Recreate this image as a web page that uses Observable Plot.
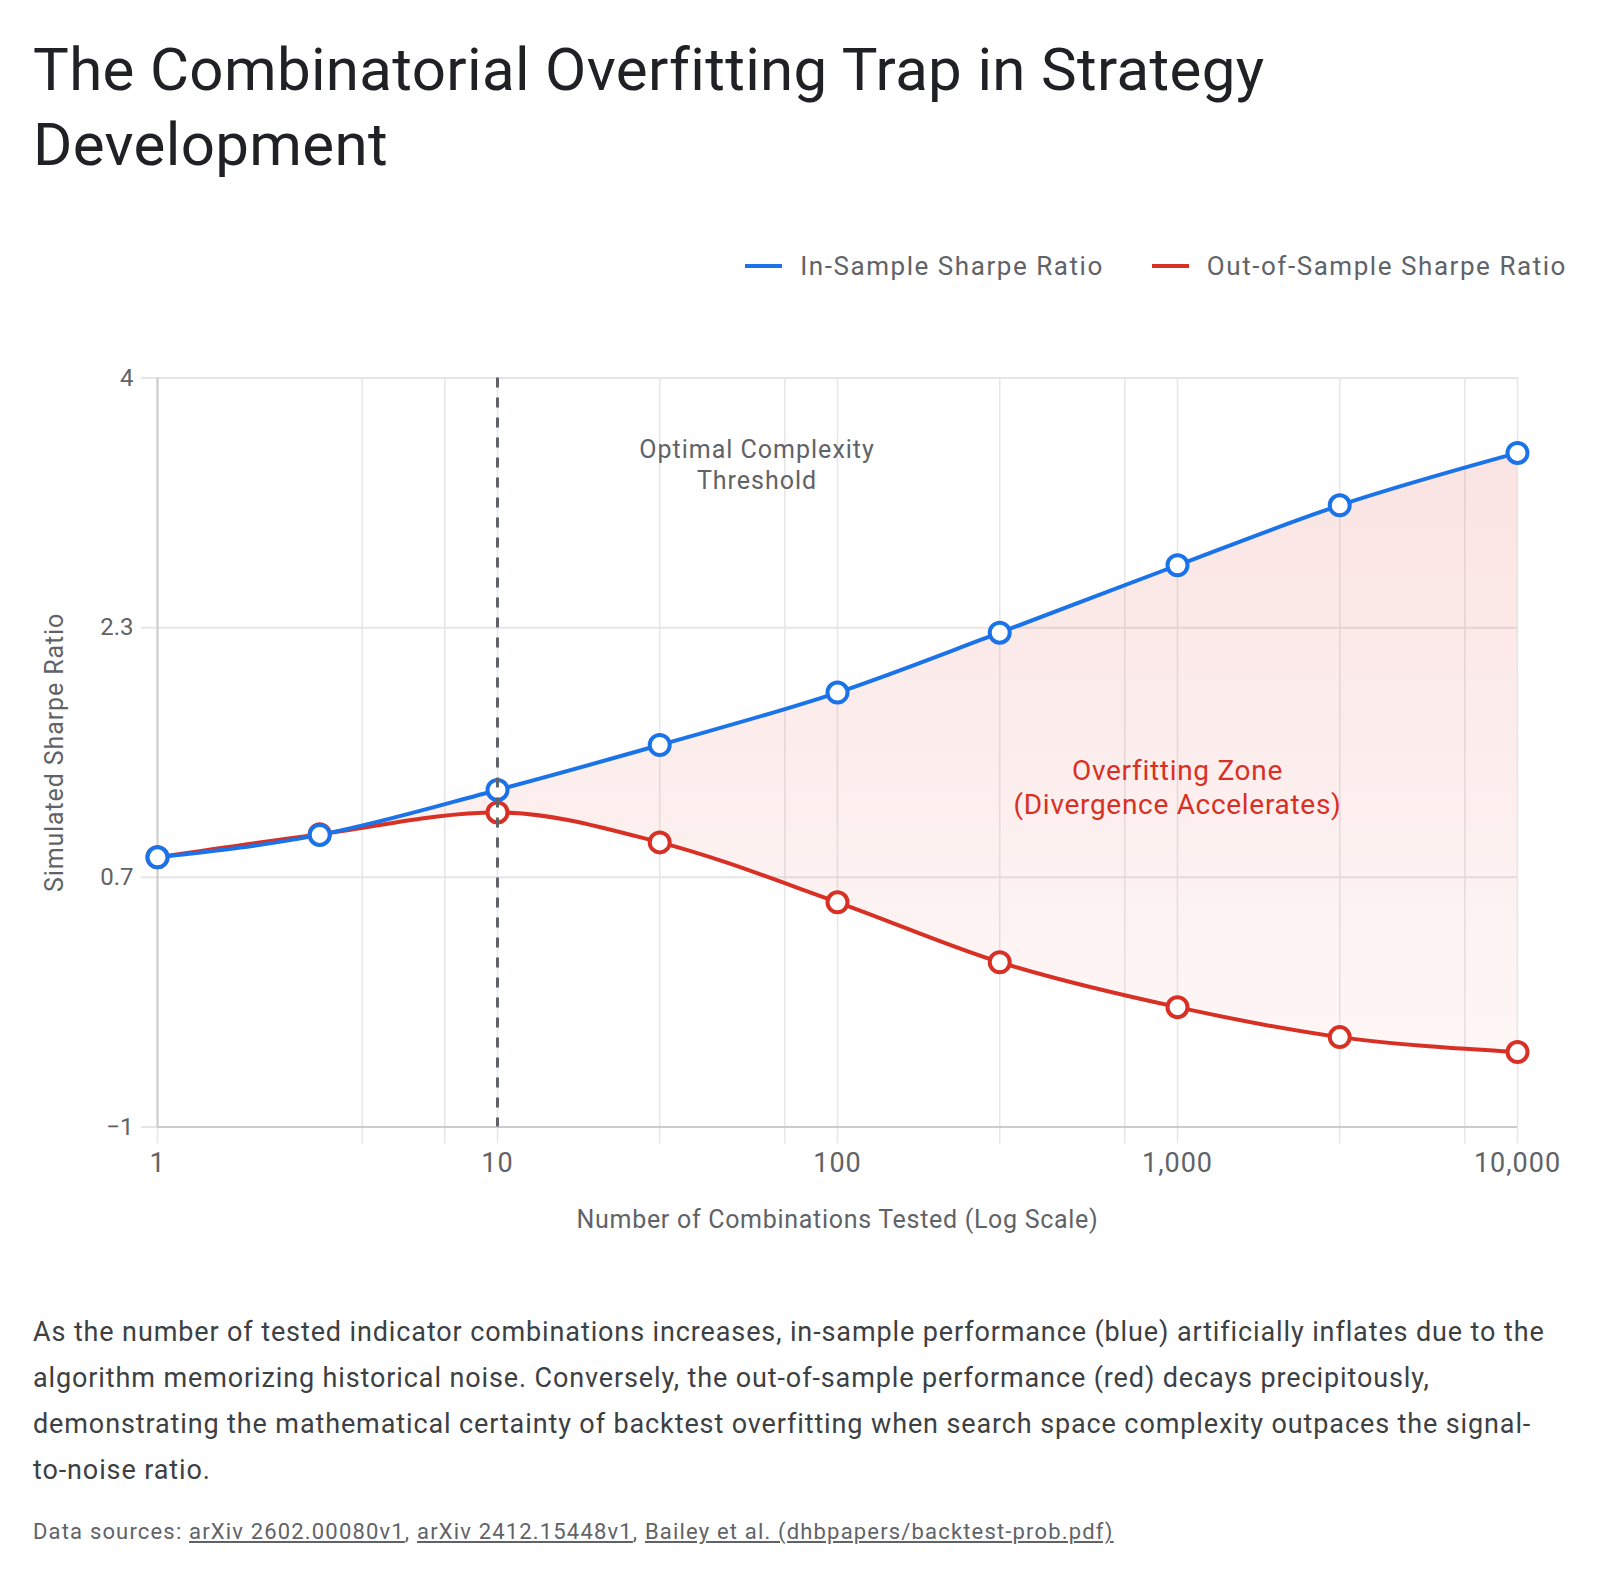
<!DOCTYPE html>
<html>
<head>
<meta charset="utf-8">
<script src="https://cdn.jsdelivr.net/npm/d3@7"></script>
<script src="https://cdn.jsdelivr.net/npm/@observablehq/plot@0.6"></script>
<style>
  html, body { margin: 0; padding: 0; background: #fff; }
  body { width: 1600px; height: 1580px; position: relative; font-family: Roboto, "Noto Sans", sans-serif; overflow: hidden; }
  #title { position: absolute; left: 33px; top: 32px; font-size: 60px; letter-spacing: 0.35px; line-height: 75px; color: #202124; font-weight: 400; margin: 0; }
  #legend { position: absolute; right: 33px; top: 251px; display: flex; align-items: center; font-size: 26px; letter-spacing: 1.55px; line-height: 30px; color: #5f6368; }
  #legend .item { display: flex; align-items: center; margin-left: 48px; }
  #legend .sw { width: 37px; height: 4px; margin-right: 18px; }
  #chart { position: absolute; left: 0; top: 300px; }
  #caption { position: absolute; left: 33px; top: 1309px; width: 1522px; font-size: 27px; letter-spacing: 0.88px; line-height: 46px; color: #3c4043; margin: 0; }
  #sources { position: absolute; left: 33px; top: 1517px; font-size: 22px; letter-spacing: 1.17px; line-height: 30px; color: #5f6368; }
  #sources a { color: #5f6368; text-decoration: underline; }
</style>
</head>
<body>
<h1 id="title">The Combinatorial Overfitting Trap in Strategy<br>Development</h1>
<div id="legend"></div>
<div id="chart"></div>
<p id="caption">As the number of tested indicator combinations increases, in-sample performance (blue) artificially inflates due to the algorithm memorizing historical noise. Conversely, the out-of-sample performance (red) decays precipitously, demonstrating the mathematical certainty of backtest overfitting when search space complexity outpaces the signal-to-noise ratio.</p>
<div id="sources">Data sources: <a href="#">arXiv 2602.00080v1</a>, <a href="#">arXiv 2412.15448v1</a>, <a href="#">Bailey et al. (dhbpapers/backtest-prob.pdf)</a></div>
<script>
// ---- data ----
const combinations = [1, 3, 10, 30, 100, 300, 1000, 3000, 10000];
const inSampleSharpe = [0.8, 0.95, 1.25, 1.55, 1.9, 2.3, 2.75, 3.15, 3.5];
const outOfSampleSharpe = [0.8, 0.955, 1.1, 0.9, 0.5, 0.1, -0.2, -0.4, -0.5];
const seriesNames = ["In-Sample Sharpe Ratio", "Out-of-Sample Sharpe Ratio"];
const seriesColors = ["#1a73e8", "#d93025"];
const xTickValues = [1, 10, 100, 1000, 10000];
const xGridValues = [1, 4, 7, 10, 30, 70, 100, 300, 700, 1000, 3000, 7000, 10000];
const yTickValues = [-1, 2 / 3, 7 / 3, 4];
const thresholdValue = [10];
const thresholdLabel = ["Optimal Complexity\nThreshold"];
const zoneLabel = ["Overfitting Zone\n(Divergence Accelerates)"];
const xLabel = "Number of Combinations Tested (Log Scale)";
const yLabel = "Simulated Sharpe Ratio";

// ---- derived tables ----
const rows = combinations.map((x, i) => ({x, is: inSampleSharpe[i], os: outOfSampleSharpe[i]}));
const inRows = combinations.map((x, i) => ({x, y: inSampleSharpe[i]}));
const outRows = combinations.map((x, i) => ({x, y: outOfSampleSharpe[i]}));

// ---- legend ----
const legend = document.getElementById("legend");
seriesNames.forEach((name, i) => {
  const item = document.createElement("div");
  item.className = "item";
  const sw = document.createElement("span");
  sw.className = "sw";
  sw.style.background = seriesColors[i];
  const t = document.createElement("span");
  t.textContent = name;
  item.appendChild(sw); item.appendChild(t);
  legend.appendChild(item);
});

const gridColor = "#e6e6e8";
const textColor = "#5f6368";
const curve = "monotone-x";
const xFormat = d3.format(",");

const gradientDefs = () => {
  const defs = d3.create("svg:defs");
  const g = defs.append("linearGradient").attr("id", "ofz").attr("x1", 0).attr("x2", 0).attr("y1", 0).attr("y2", 1);
  g.append("stop").attr("offset", "0%").attr("stop-color", "#d93025").attr("stop-opacity", 0.13);
  g.append("stop").attr("offset", "100%").attr("stop-color", "#d93025").attr("stop-opacity", 0.04);
  return defs.node();
};

const plot = Plot.plot({
  width: 1600,
  height: 950,
  marginLeft: 157,
  marginRight: 83,
  marginTop: 77.5,
  marginBottom: 123.5,
  style: {fontFamily: "Roboto, 'Noto Sans', sans-serif", background: "#fff"},
  x: {type: "log", domain: [1, 10000]},
  y: {domain: [-1, 4]},
  marks: [
    gradientDefs,
    Plot.gridY(yTickValues, {stroke: gridColor, strokeOpacity: 1, strokeWidth: 2}),
    Plot.gridX(xGridValues, {stroke: gridColor, strokeOpacity: 1, strokeWidth: 1.5}),
    Plot.axisX(xGridValues, {tickSize: 17, tickFormat: () => "", stroke: gridColor, strokeWidth: 1.5, label: null}),
    Plot.axisX(xTickValues, {tickSize: 0, tickPadding: 26, tickFormat: xFormat, fontSize: 27, fill: textColor, label: null}),
    Plot.axisY(yTickValues, {tickSize: 16, tickPadding: 8, tickFormat: d3.format(".1~f"), fontSize: 24, stroke: gridColor, strokeWidth: 2, fill: textColor, label: null}),
    Plot.ruleY([-1], {stroke: "#cccccc", strokeWidth: 2}),
    Plot.ruleX([1], {stroke: "#cccccc", strokeWidth: 2}),
    Plot.areaY(rows, {x: "x", y1: "os", y2: "is", curve, fill: "url(#ofz)"}),
    Plot.line(outRows, {x: "x", y: "y", curve, stroke: seriesColors[1], strokeWidth: 4}),
    Plot.line(inRows, {x: "x", y: "y", curve, stroke: seriesColors[0], strokeWidth: 4}),
    Plot.dot(outRows, {x: "x", y: "y", r: 10, fill: "#fff", stroke: seriesColors[1], strokeWidth: 4}),
    Plot.dot(inRows, {x: "x", y: "y", r: 10, fill: "#fff", stroke: seriesColors[0], strokeWidth: 4}),
    Plot.ruleX(thresholdValue, {stroke: textColor, strokeWidth: 3, strokeDasharray: "10,10"}),
    Plot.text(thresholdLabel, {x: 58, y: 3.43, text: d => d, fontSize: 25, fill: textColor, lineHeight: 1.24, textAnchor: "middle"}),
    Plot.text(zoneLabel, {x: 1000, y: 1.275, text: d => d, fontSize: 28, fill: seriesColors[1], lineHeight: 1.2, textAnchor: "middle"}),
    Plot.text([xLabel], {frameAnchor: "bottom", dy: 100.5, text: d => d, fontSize: 25, fill: textColor, textAnchor: "middle"}),
    Plot.text([yLabel], {frameAnchor: "left", dx: -103, rotate: -90, text: d => d, fontSize: 25, fill: textColor, textAnchor: "middle"})
  ]
});

// widen SVG text spacing to match the reference typeface widths
const spacing = new Map([
  [thresholdLabel[0].replace("\n", ""), "1px"],
  [zoneLabel[0].replace("\n", ""), "0.7px"],
  [xLabel, "0.7px"],
  [yLabel, "0.88px"],
  ...xTickValues.map(v => [xFormat(v), "1px"])
]);
d3.select(plot).selectAll("text").each(function () {
  const s = spacing.get(this.textContent);
  if (s) this.setAttribute("letter-spacing", s);
});
document.getElementById("chart").appendChild(plot);
</script>
</body>
</html>
